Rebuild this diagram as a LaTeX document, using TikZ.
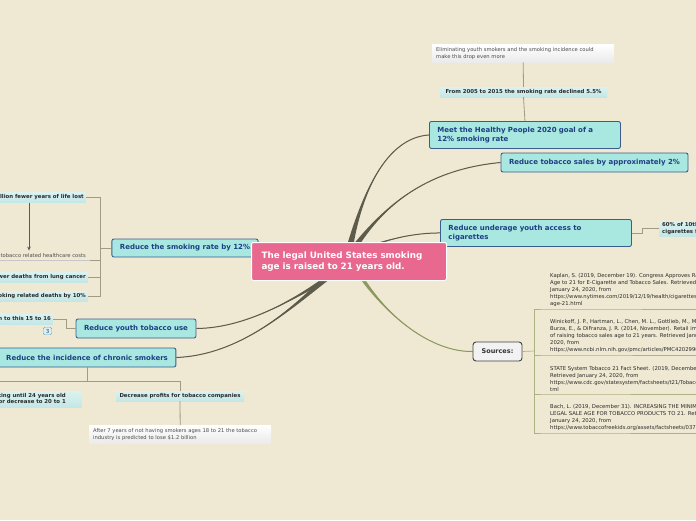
\documentclass[tikz,border=0pt]{standalone}
\usepackage{fontspec}
\setmainfont{DejaVu Sans}
\usetikzlibrary{calc,backgrounds,arrows.meta}
\definecolor{bgc}{HTML}{EFE8D2}
\definecolor{boxteal}{HTML}{A9E7E1}
\definecolor{boxblue}{HTML}{3D5C8E}
\definecolor{textblue}{HTML}{1E3F82}
\definecolor{pinkc}{HTML}{E8688F}
\definecolor{curvec}{HTML}{5D5C4B}
\definecolor{greenc}{HTML}{8C9A62}
\definecolor{branchc}{HTML}{A29A82}
\definecolor{srcc}{HTML}{AEB283}
\definecolor{subtop}{HTML}{DAF2F1}
\definecolor{subbot}{HTML}{C3E7E6}
\definecolor{darktext}{HTML}{2A2A2A}
\definecolor{graytext}{HTML}{4A4A4A}
\definecolor{badgeline}{HTML}{7FA3B0}
\newcommand\mmtaper[6]{%
  \fill[#1] ($(#2)+(#3)$) .. controls (#4) and (#5) .. (#6) .. controls (#5) and (#4) .. ($(#2)-(#3)$) -- cycle;
  \draw[#1,line width=1pt] (#2) .. controls (#4) and (#5) .. (#6);}
\tikzset{
  mainbox/.style={draw=boxblue, fill=boxteal, rounded corners=2pt, line width=0.9pt,
    text=textblue, font=\bfseries\fontsize{7}{9.5}\selectfont, inner xsep=8pt, inner ysep=0pt,
    anchor=north west, align=left},
  centerbox/.style={draw=white, fill=pinkc, rounded corners=2pt, line width=1pt,
    text=white, font=\bfseries\fontsize{8.8}{11}\selectfont, inner xsep=10pt, inner ysep=0pt,
    anchor=north west, align=left},
  subbox/.style={top color=subtop, bottom color=subbot, draw=none, text=darktext,
    font=\bfseries\fontsize{5.4}{7}\selectfont, inner xsep=2pt, inner ysep=0pt, minimum height=10pt},
  notebox/.style={top color=white, bottom color=black!8, draw=none, text=graytext,
    font=\fontsize{5.2}{7}\selectfont, inner xsep=4pt, inner ysep=0pt, align=left, anchor=north west},
  srcnote/.style={text=darktext, font=\fontsize{5.3}{7}\selectfont, inner xsep=4pt, inner ysep=2.5pt,
    align=left, anchor=south west},
  branch/.style={draw=branchc, line width=0.8pt},
  srcline/.style={draw=srcc, line width=0.7pt},
  curve/.style={curvec},
  gcurve/.style={greenc},
  badge/.style={draw=badgeline, fill=subtop, rounded corners=1.5pt, text=textblue,
    font=\fontsize{5.5}{6}\selectfont, minimum width=8.5pt, minimum height=7.5pt, inner sep=0pt},
}
\begin{document}
\begin{tikzpicture}[x=1pt,y=-1pt]
\useasboundingbox (0,0) rectangle (696,520);
\clip (0,0) rectangle (696,520);
\begin{scope}[on background layer]
  \fill[bgc] (0,0) rectangle (696,520);
\end{scope}

% ---------- main nodes ----------
\node[mainbox, text width=175pt, minimum height=27pt] (meet) at (429,121)
  {Meet the Healthy People 2020 goal of a\\12\% smoking rate};
\node[mainbox, anchor=center, minimum width=187pt, minimum height=19pt] (sales) at (594.5,162.5)
  {Reduce tobacco sales by approximately 2\%};
\node[mainbox, text width=175pt, minimum height=27pt] (underage) at (440,219)
  {Reduce underage youth access to\\cigarettes};
\node[mainbox, anchor=center, minimum width=146pt, minimum height=18pt] (smokerate) at (185,248)
  {Reduce the smoking rate by 12\%};
\node[mainbox, anchor=center, minimum width=118pt, minimum height=19pt] (youth) at (136,328.5)
  {Reduce youth tobacco use};
\node[mainbox, anchor=center, minimum width=176pt, minimum height=19pt] (chronic) at (87,357.5)
  {Reduce the incidence of chronic smokers};
\node[centerbox, text width=175pt, minimum height=38pt] (center) at (251,242)
  {The legal United States smoking\\age is raised to 21 years old.};
\node[draw=black!75, fill=black!5, rounded corners=3pt, line width=0.9pt, text=black!80,
  font=\bfseries\fontsize{6.5}{8}\selectfont, minimum width=49pt, minimum height=19pt, inner sep=0pt]
  (sources) at (497.5,351.5) {Sources:};

% ---------- top right ----------
\node[subbox, minimum width=167pt] (from2005) at (523.5,92)
  {From 2005 to 2015 the smoking rate declined 5.5\%};
\node[notebox, text width=174pt, minimum height=18pt] (elim) at (432,44)
  {Eliminating youth smokers and the smoking incidence could\\make this drop even more};
\draw[branch] (meet.north) -- (from2005.south);
\draw[branch] (from2005.north) -- (elim.south);

% ---------- right ----------
\node[subbox, anchor=west, align=left, minimum height=15pt, inner xsep=3pt,
  font=\bfseries\fontsize{5.4}{6.5}\selectfont] (sixty) at (659,228.5)
  {60\% of 10th graders\\cigarettes from};
\draw[branch] (underage.east) -- ++(10,0) |- (sixty.west);

% ---------- left: smoking rate ----------
\node[subbox, anchor=east, align=right] (lifelost) at (86,197.5)
  {1.4 million fewer years of life lost};
\node[text=graytext, font=\fontsize{5.2}{7}\selectfont, anchor=south east, inner xsep=4pt,
  inner ysep=2.5pt] (hc) at (90,260) {Reduce tobacco related healthcare costs};
\draw[draw=black!22, line width=0.7pt] (hc.south west) -- (hc.south east);
\node[subbox, anchor=east, align=right] (lung) at (88,277)
  {4,000 fewer deaths from lung cancer};
\node[subbox, anchor=east, align=right] (deaths) at (88,296)
  {Decrease smoking related deaths by 10\%};
\coordinate (lb) at (100,248);
\coordinate (ax) at (29,0);
\draw[black!65, line width=0.8pt, -{Stealth[length=4pt,width=3.5pt]}] (ax |- lifelost.south) -- (ax |- hc.north);
\draw[branch] (lb) -- (smokerate.west);
\draw[branch] (lifelost.east) -| (lb);
\draw[branch] (hc.south east) -| (lb);
\draw[branch] (lung.east) -| (lb);
\draw[branch] (deaths.east) -| (lb);

% ---------- left: youth ----------
\node[subbox, anchor=east, align=right] (tothis) at (53,319)
  {Lower the age of addiction to this 15 to 16};
\draw[branch] (tothis.east) -- ++(13,0) |- (youth.west);
\node[badge] (cnt) at (47.5,331) {3};

% ---------- left: chronic ----------
\node[subbox, anchor=north east, align=right, minimum height=16pt,
  font=\bfseries\fontsize{5.4}{6.5}\selectfont] (delay) at (82,391)
  {Delay smoking until 24 years old\kern14pt\\addiction rates stay or decrease to 20 to 1\kern14pt};
\node[subbox, minimum width=128pt] (profits) at (180,396)
  {Decrease profits for tobacco companies};
\node[notebox, text width=174pt, minimum height=18pt] (after) at (89,425)
  {After 7 years of not having smokers ages 18 to 21 the tobacco\\industry is predicted to lose \$1.2 billion};
\coordinate (cj) at (87,381);
\coordinate (dj) at (-4,381);
\draw[branch] (chronic.south) -- (cj);
\draw[branch] (cj) -| (profits.north);
\draw[branch] (cj) -- (dj) -- (dj |- delay.north);
\draw[branch] (profits.south) -- (after.north);

% ---------- sources ----------
\node[srcnote] (s1) at (546,309)
  {Kaplan, S. (2019, December 19). Congress Approves Raising Smoking\\Age to 21 for E-Cigarette and Tobacco Sales. Retrieved\\January 24, 2020, from\\https://www.nytimes.com/2019/12/19/health/cigarettes-smoking-\\age-21.html};
\node[srcnote] (s2) at (546,355)
  {Winickoff, J. P., Hartman, L., Chen, M. L., Gottlieb, M., Mueller-\\Burza, E., \& DiFranza, J. R. (2014, November). Retail impact\\of raising tobacco sales age to 21 years. Retrieved January 24,\\2020, from\\https://www.ncbi.nlm.nih.gov/pmc/articles/PMC4202990/};
\node[srcnote] (s3) at (546,394)
  {STATE System Tobacco 21 Fact Sheet. (2019, December 20).\\Retrieved January 24, 2020, from\\https://www.cdc.gov/statesystem/factsheets/t21/Tobacco21.h\\tml};
\node[srcnote] (s4) at (546,433)
  {Bach, L. (2019, December 31). INCREASING THE MINIMUM\\LEGAL SALE AGE FOR TOBACCO PRODUCTS TO 21. Retrieved\\January 24, 2020, from\\https://www.tobaccofreekids.org/assets/factsheets/0376.pdf};
\coordinate (sj) at (534,351);
\draw[srcline] (sources.east) -- (sj);
\foreach \s in {s1,s2,s3,s4}{
  \draw[srcline] (sj) |- (\s.south west) -- (\s.south east);
}

% ---------- main curves ----------
\coordinate (cT1) at (350,246);
\coordinate (cT2) at (354,248);
\coordinate (cT3) at (360,250);
\coordinate (cH) at (320,262);
\coordinate (cB1) at (334,274);
\coordinate (cB2) at (330,275);
\coordinate (cS) at (358,272);
\begin{scope}[on background layer]
  \mmtaper{curve}{cT1}{3.2,0}{362,195}{385,138}{meet.west}
  \mmtaper{curve}{cT2}{2.4,1.5}{380,212}{420,170}{sales.west}
  \mmtaper{curve}{cT3}{0.4,1.3}{390,238}{415,233}{underage.west}
  \mmtaper{curve}{cH}{0,1.5}{300,255}{280,248}{smokerate.east}
  \mmtaper{curve}{cB1}{1.4,2.6}{300,295}{250,328}{youth.east}
  \mmtaper{curve}{cB2}{1.9,2.4}{290,310}{240,355}{chronic.east}
  \mmtaper{gcurve}{cS}{1.9,-1.1}{385,315}{430,352}{sources.west}
\end{scope}
\end{tikzpicture}
\end{document}
